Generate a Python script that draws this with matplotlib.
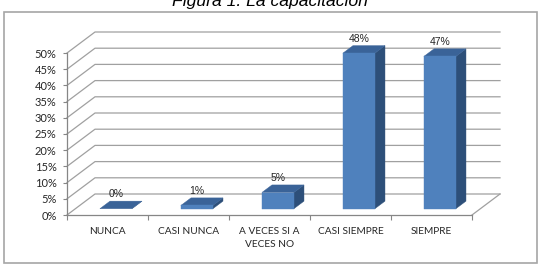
import matplotlib
matplotlib.use("Agg")
import matplotlib.pyplot as plt
from matplotlib.patches import Polygon, Rectangle

categories = ["NUNCA", "CASI NUNCA", "A VECES SI A\nVECES NO", "CASI SIEMPRE", "SIEMPRE"]
values = [0, 1, 5, 48, 47]
labels = ["0%", "1%", "5%", "48%", "47%"]
yticks = [0, 5, 10, 15, 20, 25, 30, 35, 40, 45, 50]
title = "Figura 1. La capacitación"

W, H = 543, 265
fig = plt.figure(figsize=(W / 100, H / 100), dpi=100)

# front plane of the plot
left_px, right_px, bot_px, top_px = 67, 472, 215, 53
ax = fig.add_axes([left_px / W, 1 - bot_px / H, (right_px - left_px) / W, (bot_px - top_px) / H])
ax.set_xlim(-0.5, 4.5)
ax.set_ylim(0, 50)
ax.patch.set_alpha(0)

ppx = (right_px - left_px) / 5.0      # px per category
ppy = (bot_px - top_px) / 50.0        # px per percent
Dx = 28 / ppx                         # depth offset in data units
Dy = 21 / ppy

grid_c = "#a0a0a0"
for v in yticks:
    ax.plot([-0.5, -0.5 + Dx, 4.5 + Dx], [v, v + Dy, v + Dy], color=grid_c,
            lw=0.9, clip_on=False, zorder=1)
# right floor edge
ax.plot([4.5, 4.5 + Dx], [0, Dy], color=grid_c, lw=0.9, clip_on=False, zorder=1)

# bars
w = 32 / ppx
f0, f1 = 0.3, 0.66
ddx, ddy = (f1 - f0) * Dx, (f1 - f0) * Dy
front_c, top_c, side_c = "#4f81bd", "#3a6398", "#2d4f79"
for i, v in enumerate(values):
    x0 = i - w / 2 + f0 * Dx
    x1 = x0 + w
    y0 = f0 * Dy
    y1 = v + f0 * Dy
    ax.add_patch(Polygon([(x1, y0), (x1 + ddx, y0 + ddy), (x1 + ddx, y1 + ddy), (x1, y1)],
                         closed=True, fc=side_c, ec=side_c, lw=0.3, clip_on=False, zorder=3))
    ax.add_patch(Polygon([(x0, y1), (x1, y1), (x1 + ddx, y1 + ddy), (x0 + ddx, y1 + ddy)],
                         closed=True, fc=top_c, ec=top_c, lw=0.3, clip_on=False, zorder=3))
    if v > 0:
        ax.add_patch(Rectangle((x0, y0), w, v, fc=front_c, ec=front_c, lw=0.3,
                               clip_on=False, zorder=4))
    ax.text((x0 + x1) / 2, y1 + ddy + 0.6, labels[i], ha="center", va="bottom",
            fontsize=7.5, color="#262626", family="Liberation Sans", zorder=5)

# axes styling
for s in ["top", "right"]:
    ax.spines[s].set_visible(False)
for s in ["left", "bottom"]:
    ax.spines[s].set_color("#868686")
    ax.spines[s].set_linewidth(0.9)
    ax.spines[s].set_zorder(2)

ax.set_yticks(yticks)
ax.set_yticklabels([f"{t}%" for t in yticks], fontsize=8, family="Lato", color="#262626")
ax.tick_params(axis="y", length=3, width=0.8, color="#868686", pad=4.5)

ax.set_xticks(range(len(categories)))
ax.set_xticklabels(categories, fontsize=7.3, family="Lato", color="#262626", linespacing=1.5)
ax.set_xticks([-0.5 + k for k in range(6)], minor=True)
ax.tick_params(axis="x", which="major", length=0, pad=9)
ax.tick_params(axis="x", which="minor", length=3.5, width=0.8, color="#868686")

# outer border
fig.patches.append(Rectangle((4 / W, 1 - 263 / H), 533 / W, 251 / H, transform=fig.transFigure,
                             fill=False, ec="#a6a6a6", lw=1.2))

fig.text(270 / W, 1 - 6 / H, title, ha="center", va="baseline", fontsize=12.6,
         style="italic", family="Liberation Sans", color="#000000")

fig.savefig("out.png", dpi=100)
